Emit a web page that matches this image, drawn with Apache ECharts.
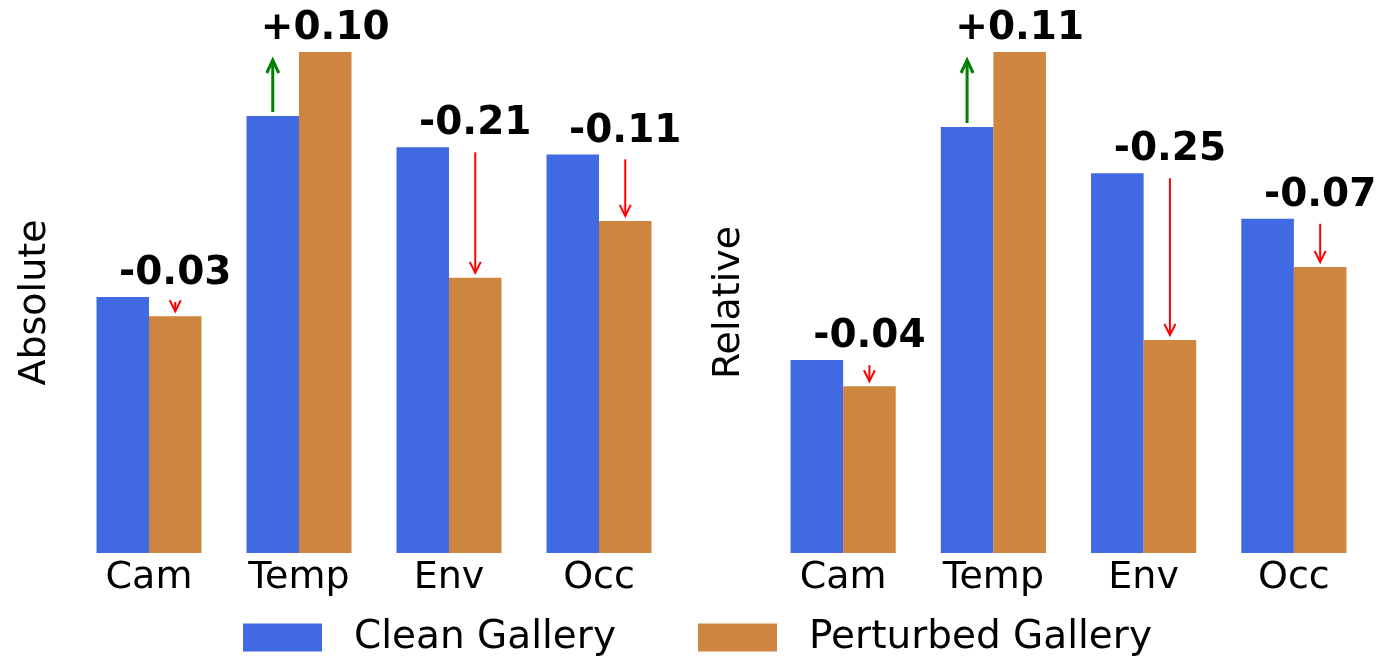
<!DOCTYPE html>
<html>
<head>
<meta charset="utf-8">
<script src="https://cdn.jsdelivr.net/npm/echarts@6/dist/echarts.min.js"></script>
<style>
html,body{margin:0;padding:0;background:#fff;}
#chart{width:1376px;height:656px;}
</style>
</head>
<body>
<div id="chart"></div>
<script>
// ---- data ----
const categories = ['Cam', 'Temp', 'Env', 'Occ'];
const seriesNames = ['Clean Gallery', 'Perturbed Gallery'];
const panelNames = ['Absolute', 'Relative'];

const absClean = [0.400, 0.683, 0.634, 0.623];
const absPerturbed = [0.370, 0.783, 0.430, 0.519];
const absDeltaLabels = ['-0.03', '+0.10', '-0.21', '-0.11'];

const relClean = [0.288, 0.636, 0.567, 0.499];
const relPerturbed = [0.249, 0.748, 0.318, 0.427];
const relDeltaLabels = ['-0.04', '+0.11', '-0.25', '-0.07'];

// ---- styles ----
const BLUE = '#4169E1';
const ORANGE = '#CD853F';
const FONT = "'DejaVu Sans', sans-serif";

function arrowSeries(gridIdx, clean, pert, labels) {
  const data = categories.map((c, i) => [i, clean[i], pert[i]]);
  return {
    type: 'custom',
    xAxisIndex: gridIdx,
    yAxisIndex: gridIdx,
    clip: false,
    silent: true,
    z: 10,
    data: data,
    encode: { x: 0, y: [1, 2] },
    renderItem: function (params, api) {
      const i = api.value(0);
      const cv = api.value(1);
      const pv = api.value(2);
      const c = api.coord([i, cv]);
      const p = api.coord([i, pv]);
      const band = api.size([1, 0])[0];
      const bw = band * 0.35;
      const up = pv > cv;
      const x = up ? c[0] - bw / 2 : c[0] + bw / 2;
      const color = up ? '#008000' : '#FF0000';
      const lw = up ? 3 : 2;
      const y0 = up ? c[1] - 4 : c[1] + 5;
      const y1 = up ? p[1] + 8 : p[1] - 5;
      const dir = up ? 1 : -1;
      const hw = up ? 6 : 5.5, hl = up ? 13 : 11;
      const children = [
        { type: 'line', shape: { x1: x, y1: y0, x2: x, y2: y1 }, style: { stroke: color, lineWidth: lw } },
        { type: 'polyline', shape: { points: [[x - hw, y1 + dir * hl], [x, y1], [x + hw, y1 + dir * hl]] },
          style: { stroke: color, lineWidth: lw, fill: null } }
      ];
      const top = Math.min(c[1], p[1]);
      const lx = c[0] + bw / 2;
      children.push({
        type: 'text',
        style: {
          text: labels[i], x: lx, y: top - 13 - 10,
          textAlign: 'center', textVerticalAlign: 'middle',
          font: "bold 39px 'DejaVu Sans', sans-serif", fill: '#000'
        }
      });
      return { type: 'group', children: children };
    }
  };
}

const grids = [
  { left: 74, width: 600, top: 52, height: 501 },
  { left: 768, width: 601, top: 52, height: 501 }
];

const option = {
  animation: false,
  textStyle: { fontFamily: FONT },
  grid: grids,
  legend: {
    data: seriesNames,
    left: 238,
    top: 613,
    itemWidth: 79,
    itemHeight: 28,
    itemGap: 82,
    icon: 'rect',
    textStyle: { fontSize: 39, color: '#000', fontFamily: FONT, padding: [0, 0, 0, 27] }
  },
  xAxis: [0, 1].map(g => ({
    type: 'category', gridIndex: g, data: categories,
    axisLine: { show: false }, axisTick: { show: false },
    axisLabel: { fontSize: 38, color: '#000', margin: 6, fontFamily: FONT }
  })),
  yAxis: [0, 1].map(g => ({
    type: 'value', gridIndex: g, min: 0, max: 'dataMax',
    name: panelNames[g], nameLocation: 'middle', nameGap: 20,
    nameTextStyle: { fontSize: 38, color: '#000', fontFamily: FONT },
    axisLine: { show: false }, axisTick: { show: false },
    axisLabel: { show: false }, splitLine: { show: false }
  })),
  series: [
    { name: seriesNames[0], type: 'bar', xAxisIndex: 0, yAxisIndex: 0, data: absClean,
      itemStyle: { color: BLUE }, barGap: '0%', barCategoryGap: '30%' },
    { name: seriesNames[1], type: 'bar', xAxisIndex: 0, yAxisIndex: 0, data: absPerturbed,
      itemStyle: { color: ORANGE }, barGap: '0%', barCategoryGap: '30%' },
    { name: seriesNames[0], type: 'bar', xAxisIndex: 1, yAxisIndex: 1, data: relClean,
      itemStyle: { color: BLUE }, barGap: '0%', barCategoryGap: '30%' },
    { name: seriesNames[1], type: 'bar', xAxisIndex: 1, yAxisIndex: 1, data: relPerturbed,
      itemStyle: { color: ORANGE }, barGap: '0%', barCategoryGap: '30%' },
    arrowSeries(0, absClean, absPerturbed, absDeltaLabels),
    arrowSeries(1, relClean, relPerturbed, relDeltaLabels)
  ]
};

const chart = echarts.init(document.getElementById('chart'), null, { renderer: 'canvas' });
chart.setOption(option);
</script>
</body>
</html>
